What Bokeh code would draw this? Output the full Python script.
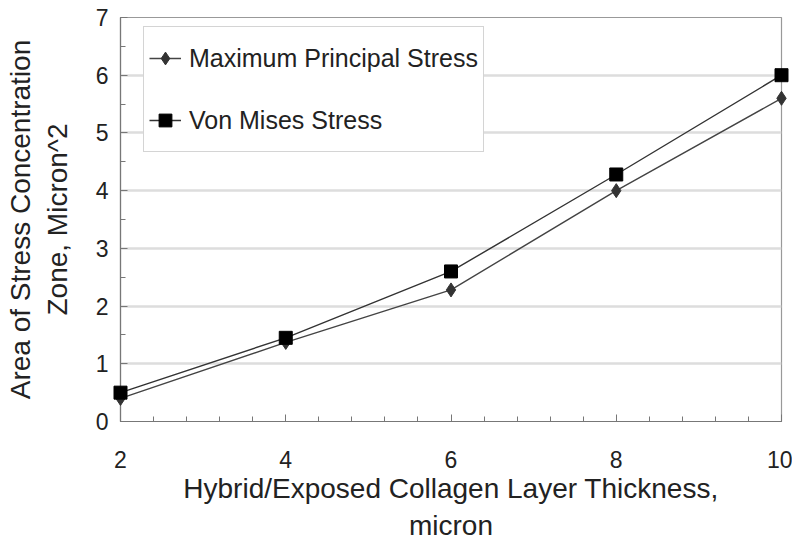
from bokeh.plotting import figure
from bokeh.embed import file_html
from bokeh.resources import INLINE
from bokeh.models import ColumnDataSource, Range1d, FixedTicker, Legend, LegendItem

thickness = [2, 4, 6, 8, 10]
max_principal = [0.40, 1.37, 2.28, 4.00, 5.60]
von_mises = [0.50, 1.45, 2.60, 4.28, 6.00]
x_ticks = [2, 4, 6, 8, 10]
y_ticks = [0, 1, 2, 3, 4, 5, 6, 7]

FONT = "Liberation Sans"

p = figure(width=792, height=544, output_backend="svg", toolbar_location=None,
           x_range=Range1d(2, 10), y_range=Range1d(0, 7),
           min_border_left=120, min_border_top=17, min_border_right=11, min_border_bottom=123)

src = ColumnDataSource(dict(x=thickness, mp=max_principal, vm=von_mises))

l1 = p.line("x", "mp", source=src, line_color="#444444", line_width=1.4)
s1 = p.scatter("x", "mp", source=src, marker="diamond", size=14, fill_color="#333333",
               line_color="#333333", level="overlay")
l2 = p.line("x", "vm", source=src, line_color="#333333", line_width=1.4)
s2 = p.scatter("x", "vm", source=src, marker="square", size=13, fill_color="#000000",
               line_color="#000000", level="overlay")

p.xaxis.ticker = FixedTicker(ticks=x_ticks, minor_ticks=[2 + 0.4 * i for i in range(21)])
p.yaxis.ticker = FixedTicker(ticks=y_ticks, minor_ticks=[0.5 * i for i in range(15)])

for ax in (p.xaxis, p.yaxis):
    ax.axis_line_color = "#777777"
    ax.axis_line_width = 1.2
    ax.major_tick_in = 7
    ax.major_tick_out = 0
    ax.minor_tick_in = 5
    ax.minor_tick_out = 0
    ax.major_tick_line_color = "#777777"
    ax.minor_tick_line_color = "#777777"
    ax.major_label_text_font = FONT
    ax.major_label_text_font_size = "23px"
    ax.major_label_text_color = "#222222"
    ax.axis_label_text_font = FONT
    ax.axis_label_text_font_size = "28px"
    ax.axis_label_text_font_style = "normal"
    ax.axis_label_text_color = "#222222"

p.xaxis.major_label_standoff = 29
p.yaxis.major_label_standoff = 12
p.xaxis.axis_label = "Hybrid/Exposed Collagen Layer Thickness,\nmicron"
p.yaxis.axis_label = "Area of Stress Concentration\nZone, Micron^2"
p.xaxis.axis_label_standoff = 2
p.yaxis.axis_label_standoff = 20

p.xgrid.grid_line_color = None
p.ygrid.grid_line_color = "#dddddd"
p.ygrid.grid_line_width = 2.5

p.outline_line_color = "#999999"
p.outline_line_width = 1.2

legend = Legend(items=[
    LegendItem(label="Maximum Principal Stress", renderers=[l1, s1]),
    LegendItem(label="Von Mises Stress", renderers=[l2, s2]),
], location=(23, 269))
legend.label_text_font = FONT
legend.label_text_font_size = "25px"
legend.label_text_color = "#222222"
legend.glyph_width = 32
legend.glyph_height = 52
legend.label_height = 52
legend.label_standoff = 8
legend.padding = 5
legend.spacing = 10
legend.margin = 0
legend.border_line_color = "#aaaaaa"
legend.border_line_width = 1.5
legend.background_fill_alpha = 1.0
p.add_layout(legend)

open("out.html", "w").write(file_html(p, INLINE))
